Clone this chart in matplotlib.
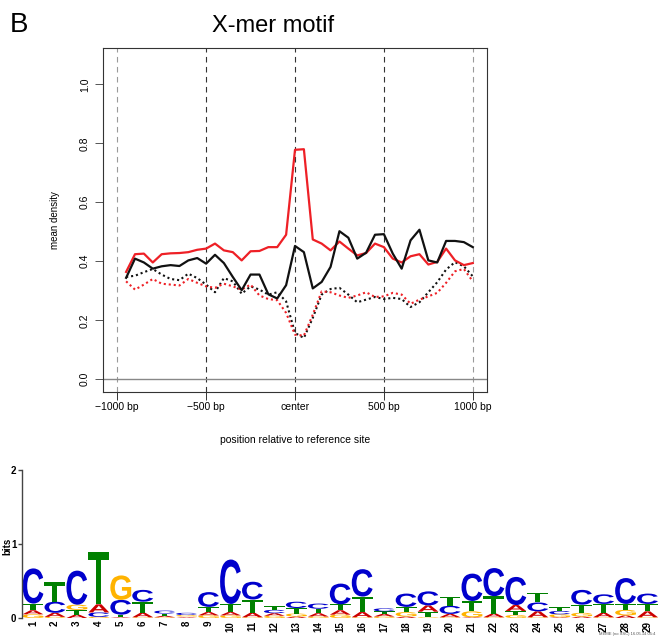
import matplotlib
matplotlib.use("Agg")
import matplotlib.pyplot as plt
from matplotlib.textpath import TextPath
from matplotlib.patches import PathPatch
from matplotlib.font_manager import FontProperties
from matplotlib.transforms import Affine2D

plt.rcParams["font.family"] = ["Liberation Sans", "DejaVu Sans"]

# --- profile data (bins relative to reference site) ---
positions = [-950, -900, -850, -800, -750, -700, -650, -600, -550, -500,
             -450, -400, -350, -300, -250, -200, -150, -100, -50, 0,
             50, 100, 150, 200, 250, 300, 350, 400, 450, 500,
             550, 600, 650, 700, 750, 800, 850, 900, 950, 1000]

red_solid = [0.364, 0.424, 0.426, 0.396, 0.424, 0.427, 0.428, 0.431, 0.439, 0.443,
             0.460, 0.437, 0.431, 0.403, 0.434, 0.435, 0.448, 0.448, 0.490, 0.778,
             0.780, 0.474, 0.460, 0.437, 0.467, 0.443, 0.420, 0.428, 0.460, 0.448,
             0.409, 0.396, 0.417, 0.424, 0.389, 0.398, 0.443, 0.403, 0.387, 0.394]

black_solid = [0.344, 0.409, 0.396, 0.375, 0.383, 0.387, 0.384, 0.403, 0.411, 0.392,
               0.422, 0.394, 0.347, 0.302, 0.355, 0.355, 0.288, 0.274, 0.319, 0.452,
               0.431, 0.308, 0.330, 0.381, 0.502, 0.480, 0.409, 0.429, 0.490, 0.492,
               0.426, 0.375, 0.471, 0.507, 0.403, 0.396, 0.469, 0.469, 0.465, 0.448]

black_dotted = [0.347, 0.351, 0.363, 0.374, 0.355, 0.340, 0.336, 0.358, 0.343, 0.321,
                0.295, 0.343, 0.332, 0.290, 0.315, 0.304, 0.287, 0.295, 0.264, 0.157,
                0.140, 0.208, 0.287, 0.306, 0.310, 0.287, 0.261, 0.270, 0.279, 0.272,
                0.276, 0.272, 0.245, 0.261, 0.295, 0.329, 0.372, 0.397, 0.383, 0.349]

red_dotted = [0.332, 0.304, 0.321, 0.340, 0.324, 0.321, 0.318, 0.340, 0.327, 0.315,
              0.310, 0.324, 0.315, 0.304, 0.321, 0.284, 0.272, 0.268, 0.225, 0.151,
              0.148, 0.219, 0.298, 0.295, 0.284, 0.276, 0.284, 0.295, 0.279, 0.281,
              0.293, 0.287, 0.256, 0.270, 0.281, 0.293, 0.327, 0.366, 0.374, 0.332]

xticks = [-1000, -500, 0, 500, 1000]
xtick_labels = ["\u22121000 bp", "\u2212500 bp", "center", "500 bp", "1000 bp"]
yticks = [0.0, 0.2, 0.4, 0.6, 0.8, 1.0]

# --- motif logo data (bits per base, positions 1..29) ---
A_bits = [0.055, 0.055, 0.045, 0.11, 0.01, 0.06, 0.02, 0.01, 0.045, 0.045,
          0.06, 0.035, 0.02, 0.045, 0.06, 0.07, 0.035, 0.02, 0.085, 0.045,
          0.01, 0.05, 0.08, 0.08, 0.01, 0.02, 0.06, 0.035, 0.08]
C_bits = [0.475, 0.15, 0.46, 0.06, 0.20, 0.16, 0.04, 0.03, 0.20, 0.60,
          0.24, 0.045, 0.085, 0.07, 0.28, 0.37, 0.04, 0.18, 0.19, 0.11,
          0.37, 0.38, 0.38, 0.12, 0.045, 0.20, 0.13, 0.35, 0.14]
G_bits = [0.05, 0.015, 0.07, 0.015, 0.33, 0.01, 0.01, 0.02, 0.035, 0.035,
          0.01, 0.03, 0.04, 0.02, 0.045, 0.01, 0.02, 0.06, 0.01, 0.01,
          0.08, 0.01, 0.04, 0.01, 0.04, 0.05, 0.01, 0.075, 0.01]
T_bits = [0.09, 0.26, 0.065, 0.71, 0.035, 0.15, 0.03, 0.01, 0.07, 0.11,
          0.18, 0.05, 0.075, 0.06, 0.08, 0.21, 0.035, 0.07, 0.075, 0.12,
          0.14, 0.235, 0.055, 0.13, 0.05, 0.11, 0.12, 0.08, 0.10]
base_colors = {"A": "#CC0000", "C": "#0000CC", "G": "#FFB300", "T": "#008000"}

W, H = 659, 638
fig = plt.figure(figsize=(W / 100, H / 100), dpi=100)

# ---------------- top: density profile ----------------
ax = fig.add_axes([103 / W, 1 - 392 / H, (487 - 103) / W, (392 - 48) / H])
ax.set_xlim(-1080, 1080)
ax.set_ylim(-0.0432, 1.1232)

for xv in xticks:
    c = "#9a9a9a" if abs(xv) == 1000 else "#333333"
    ax.axvline(xv, color=c, lw=0.8, ls=(0, (5, 4)), zorder=1)
ax.axhline(0, color="#888888", lw=1.0, zorder=1)

ax.plot(positions, red_solid, color="#ee2026", lw=1.6, zorder=3)
ax.plot(positions, black_solid, color="#111111", lw=1.6, zorder=3)
ax.plot(positions, black_dotted, color="#111111", lw=1.5, ls=(0, (1, 1.4)), zorder=2)
ax.plot(positions, red_dotted, color="#ee2026", lw=1.5, ls=(0, (1, 1.4)), zorder=2)

ax.set_xticks(xticks)
ax.set_xticklabels(xtick_labels, fontsize=7.5)
ax.set_yticks(yticks)
ax.set_yticklabels([f"{v:.1f}" for v in yticks], fontsize=7.5, rotation=90, va="center")
ax.tick_params(axis="x", length=5.5, width=0.7, color="#333333", pad=2)
ax.tick_params(axis="y", length=5.5, width=0.7, color="#555555", pad=4)
for s in ax.spines.values():
    s.set_color("#333333")
    s.set_linewidth(0.8)

fig.text(10 / W, 1 - 25 / H, "B", fontsize=20, ha="left", va="center")
fig.text(273 / W, 1 - 26 / H, "X-mer motif", fontsize=17, ha="center", va="center")
fig.text(55 / W, 1 - 220 / H, "mean density", fontsize=7, rotation=90, ha="center", va="center")
fig.text(295 / W, 1 - 440 / H, "position relative to reference site", fontsize=7.5,
         ha="center", va="center")

# ---------------- bottom: sequence logo ----------------
lax = fig.add_axes([22 / W, 1 - 618 / H, (658.5 - 22) / W, (618 - 470) / H])
lax.set_xlim(0.5, 29.5)
lax.set_ylim(0, 2)

fp = FontProperties(family="Liberation Sans", weight="bold")
glyphs = {}
for b in "ACGT":
    tp = TextPath((0, 0), b, size=1, prop=fp)
    glyphs[b] = (tp, tp.get_extents())


def draw_base(axis, base, xc, y0, width, height):
    tp, bb = glyphs[base]
    tr = (Affine2D().translate(-bb.x0, -bb.y0)
          .scale(width / bb.width, height / bb.height)
          .translate(xc - width / 2, y0))
    axis.add_patch(PathPatch(tr.transform_path(tp), fc=base_colors[base], ec="none", lw=0))


for i in range(len(A_bits)):
    col = {"A": A_bits[i], "C": C_bits[i], "G": G_bits[i], "T": T_bits[i]}
    y = 0.0
    for b, h in sorted(col.items(), key=lambda kv: kv[1]):
        draw_base(lax, b, i + 1, y, 0.95, h)
        y += h

for s in ["top", "right", "bottom"]:
    lax.spines[s].set_visible(False)
lax.spines["left"].set_color("#444444")
lax.spines["left"].set_linewidth(1.0)
lax.set_yticks([0, 1, 2])
lax.set_yticklabels(["0", "1", "2"], fontsize=7, fontweight="bold")
lax.tick_params(axis="y", length=3, width=1.0, color="#444444", pad=1)
lax.set_xticks(range(1, 30))
lax.set_xticklabels([str(k) for k in range(1, 30)], rotation=90, fontsize=7,
                    fontweight="bold", va="top")
lax.tick_params(axis="x", length=0, pad=2)
fig.text(7 / W, 1 - 546 / H, "bits", fontsize=7, fontweight="bold", rotation=90,
         ha="center", va="center")
fig.text(655 / W, 1 - 634 / H, "MEME (no SSC) 16.05.14 05:4", fontsize=3,
         color="#555555", ha="right", va="center")

fig.savefig("out.png", dpi=100)
